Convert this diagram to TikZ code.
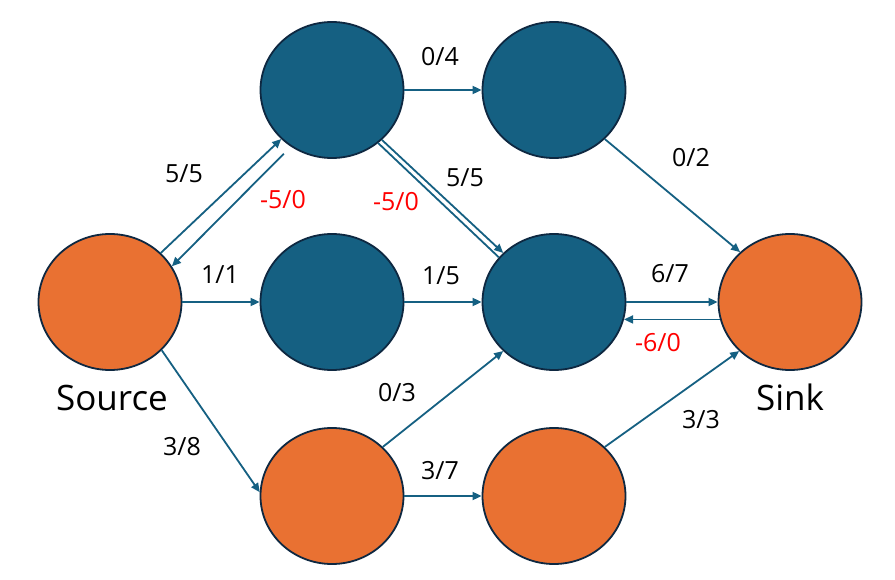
\documentclass[tikz,border=0pt]{standalone}
\usepackage{fontspec}
\setmainfont{Open Sans}
\usetikzlibrary{shapes.geometric,arrows.meta}
\definecolor{nblue}{HTML}{156082}
\definecolor{norange}{HTML}{E97132}
\definecolor{nline}{HTML}{0E2841}
\definecolor{ered}{HTML}{FF0000}
\begin{document}
\begin{tikzpicture}[x=1pt,y=-1pt,
  vert/.style={ellipse, draw=nline, line width=1.8pt, minimum width=143pt, minimum height=136pt, inner sep=0pt},
  bnode/.style={vert, fill=nblue},
  onode/.style={vert, fill=norange},
  edge/.style={draw=nblue, line width=1.8pt, -{Triangle[length=9pt,width=8pt]}},
  plainedge/.style={draw=nblue, line width=1.8pt},
  lbl/.style={inner sep=0pt, font=\fontsize{25}{30}\selectfont},
  rlbl/.style={lbl, text=ered},
  big/.style={inner sep=0pt, font=\fontsize{35}{42}\selectfont}]
\useasboundingbox (0,0) rectangle (895,580);
\fill[white] (0,0) rectangle (895,580);
% nodes
\node[onode] (S)  at (110,302) {};
\node[bnode] (T1) at (332,90) {};
\node[bnode] (T2) at (554,90) {};
\node[bnode] (M1) at (332,302) {};
\node[bnode] (M2) at (554,302) {};
\node[onode] (K)  at (790,302) {};
\node[onode] (B1) at (332,496) {};
\node[onode] (B2) at (554,496) {};
% edges
\draw[edge] (S.44) -- (T1.224);
\draw[edge, shorten <=10pt] (T1.234) -- (S.30);
\draw[edge] (T1) -- (T2);
\draw[edge] (T1.-45) -- (M2.136);
\draw[plainedge] (T1.-49) -- (M2.141);
\draw[edge] (T2.-44) -- (K.135);
\draw[edge] (S) -- (M1);
\draw[edge] (M1) -- (M2);
\draw[edge] (M2) -- (K);
\draw[edge] (K.194) -- (M2.-14);
\draw[edge] (B1.44) -- (M2.224);
\draw[edge] (B1) -- (B2);
\draw[edge] (B2.44) -- (K.224);
\draw[edge] (S.-43) -- (B1.177);
% labels
\node[lbl]  (l04) at (440,57) {0/4};
\node[lbl]  (l55a) at (184,174) {5/5};
\node[rlbl] (r50a) at (283,200) {-5/0};
\node[rlbl] (r50b) at (396,202) {-5/0};
\node[lbl]  (l55b) at (465,178) {5/5};
\node[lbl]  (l02) at (691,158) {0/2};
\node[lbl]  (l11) at (220,275) {1/1};
\node[lbl]  (l15) at (441,276) {1/5};
\node[lbl]  (l67) at (670,274) {6/7};
\node[rlbl] (r60) at (658,343) {-6/0};
\node[lbl]  (l03) at (397,393) {0/3};
\node[lbl]  (l33) at (701,420) {3/3};
\node[lbl]  (l38) at (182,447) {3/8};
\node[lbl]  (l37) at (440,471) {3/7};
\node[big]  (src) at (112,398) {Source};
\node[big]  (snk) at (790,397) {Sink};
\end{tikzpicture}
\end{document}
